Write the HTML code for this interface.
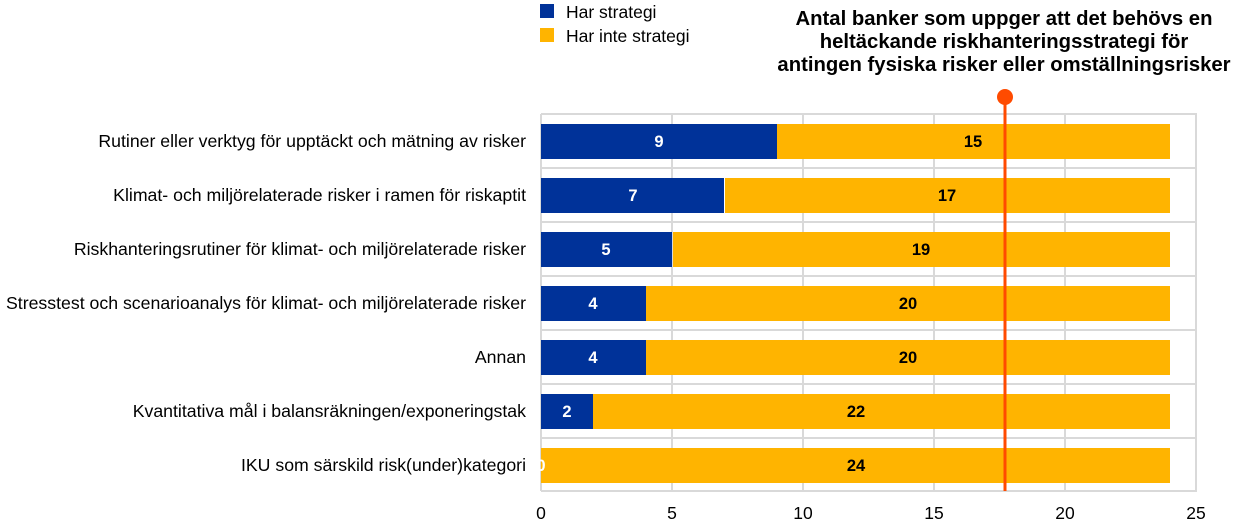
<!DOCTYPE html>
<html><head><meta charset="utf-8"><style>
body{margin:0;background:#fff}
svg{display:block;font-family:"Liberation Sans",sans-serif}
</style></head><body>
<svg width="1240" height="530" viewBox="0 0 1240 530">
<g stroke="#d9d9d9" stroke-width="2">
<line x1="541" y1="114" x2="1197" y2="114"/><line x1="541" y1="168" x2="1197" y2="168"/>
<line x1="541" y1="222" x2="1197" y2="222"/><line x1="541" y1="276" x2="1197" y2="276"/>
<line x1="541" y1="330" x2="1197" y2="330"/><line x1="541" y1="384" x2="1197" y2="384"/>
<line x1="541" y1="438" x2="1197" y2="438"/><line x1="541" y1="491" x2="1197" y2="491"/>
<line x1="541" y1="114" x2="541" y2="491"/><line x1="672" y1="114" x2="672" y2="491"/>
<line x1="803" y1="114" x2="803" y2="491"/><line x1="934" y1="114" x2="934" y2="491"/>
<line x1="1065" y1="114" x2="1065" y2="491"/><line x1="1196" y1="114" x2="1196" y2="491"/>
</g>
<g font-size="16.5" font-weight="bold" text-anchor="middle">
<rect x="541" y="124" width="236" height="35" fill="#003299"/><rect x="777" y="124" width="393" height="35" fill="#ffb400"/>
<text x="659" y="147" fill="#fff">9</text><text x="973" y="147">15</text>
<rect x="541" y="178" width="183" height="35" fill="#003299"/><rect x="725" y="178" width="445" height="35" fill="#ffb400"/>
<text x="633" y="201" fill="#fff">7</text><text x="947" y="201">17</text>
<rect x="541" y="232" width="131" height="35" fill="#003299"/><rect x="673" y="232" width="497" height="35" fill="#ffb400"/>
<text x="606" y="255" fill="#fff">5</text><text x="921" y="255">19</text>
<rect x="541" y="286" width="105" height="35" fill="#003299"/><rect x="646" y="286" width="524" height="35" fill="#ffb400"/>
<text x="593" y="309" fill="#fff">4</text><text x="908" y="309">20</text>
<rect x="541" y="340" width="105" height="35" fill="#003299"/><rect x="646" y="340" width="524" height="35" fill="#ffb400"/>
<text x="593" y="363" fill="#fff">4</text><text x="908" y="363">20</text>
<rect x="541" y="394" width="52" height="35" fill="#003299"/><rect x="593" y="394" width="577" height="35" fill="#ffb400"/>
<text x="567" y="417" fill="#fff">2</text><text x="856" y="417">22</text>
<rect x="541" y="448" width="629" height="35" fill="#ffb400"/>
<text x="541" y="471" fill="#fff">0</text><text x="856" y="471">24</text>
</g>
<g font-size="17.7" text-anchor="end" fill="#000">
<text x="526" y="147">Rutiner eller verktyg för upptäckt och mätning av risker</text>
<text x="526" y="201">Klimat- och miljörelaterade risker i ramen för riskaptit</text>
<text x="526" y="255">Riskhanteringsrutiner för klimat- och miljörelaterade risker</text>
<text x="526" y="309">Stresstest och scenarioanalys för klimat- och miljörelaterade risker</text>
<text x="526" y="363">Annan</text>
<text x="526" y="417">Kvantitativa mål i balansräkningen/exponeringstak</text>
<text x="526" y="471">IKU som särskild risk(under)kategori</text>
</g>
<g font-size="17.5" text-anchor="middle">
<text x="541" y="519">0</text><text x="672" y="519">5</text><text x="803" y="519">10</text>
<text x="934" y="519">15</text><text x="1065" y="519">20</text><text x="1196" y="519">25</text>
</g>
<line x1="1005" y1="97" x2="1005" y2="491" stroke="#ff4b00" stroke-width="3"/>
<circle cx="1005" cy="97" r="8" fill="#ff4b00"/>
<g font-size="20.3" font-weight="bold" text-anchor="middle">
<text x="1004" y="25">Antal banker som uppger att det behövs en</text>
<text x="1004" y="48">heltäckande riskhanteringsstrategi för</text>
<text x="1004" y="71">antingen fysiska risker eller omställningsrisker</text>
</g>
<rect x="540" y="4" width="14" height="14" fill="#003299"/>
<rect x="540" y="28" width="14" height="14" fill="#ffb400"/>
<g font-size="17.5"><text x="566" y="18">Har strategi</text><text x="566" y="42">Har inte strategi</text></g>
</svg>
</body></html>
